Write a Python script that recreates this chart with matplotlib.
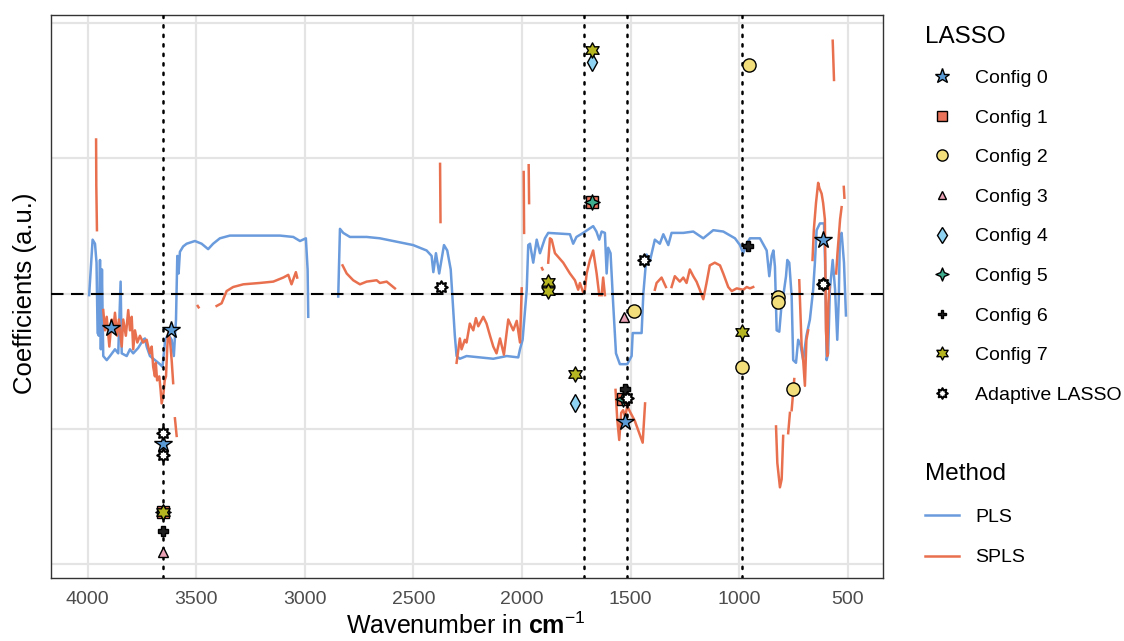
import numpy as np
import matplotlib
matplotlib.use("Agg")
import matplotlib.pyplot as plt
from matplotlib.lines import Line2D
from matplotlib.path import Path

plt.rcParams['font.family'] = ['Liberation Sans', 'DejaVu Sans']
plt.rcParams['mathtext.fontset'] = 'custom'
plt.rcParams['mathtext.rm'] = 'Liberation Sans'
plt.rcParams['mathtext.bf'] = 'Liberation Sans:bold'
plt.rcParams['mathtext.it'] = 'Liberation Sans:italic'

nan = np.nan

# ---------------- data ----------------
# PLS coefficients (two continuous segments)
pls_wn_1 = [3993, 3977, 3966, 3959, 3954, 3948, 3943, 3939, 3934, 3928, 3912, 3897, 3874, 3859,
            3848, 3843, 3820, 3805, 3790, 3767, 3744, 3736, 3728, 3713, 3690, 3667, 3655, 3643,
            3629, 3613, 3603, 3593, 3587, 3581, 3575, 3560, 3544, 3506, 3475, 3445, 3422, 3391,
            3345, 3237, 3114, 3053, 3022, 2995, 2987, 2984]
pls_co_1 = [-0.01, 0.40, 0.37, 0.23, -0.29, -0.31, 0.25, -0.41, 0.18, -0.46, -0.49, -0.46, -0.41, -0.44,
            0.09, -0.44, -0.46, -0.41, -0.44, -0.40, -0.34, -0.33, -0.39, -0.46, -0.49, -0.52, -0.54, -0.34,
            -0.30, -0.34, -0.46, -0.19, 0.28, 0.15, 0.31, 0.35, 0.37, 0.39, 0.37, 0.33, 0.37, 0.41,
            0.43, 0.43, 0.43, 0.42, 0.39, 0.41, 0.18, -0.17]

pls_wn_2 = [2846, 2838, 2823, 2792, 2715, 2654, 2562, 2501, 2439, 2416, 2408, 2396, 2381, 2359,
            2344, 2328, 2309, 2301, 2286, 2255, 2132, 2070, 2017, 2009, 1997, 1978, 1971, 1963,
            1948, 1932, 1917, 1894, 1879, 1779, 1764, 1749, 1718, 1672, 1657, 1644, 1633, 1618,
            1610, 1603, 1592, 1580, 1567, 1549, 1515, 1495, 1490, 1449, 1441, 1426, 1411, 1388,
            1365, 1349, 1326, 1311, 1257, 1211, 1165, 1119, 1073, 1019, 996, 981, 965, 950,
            904, 873, 861, 850, 842, 835, 827, 815, 804, 797, 784, 778, 769, 758,
            751, 738, 728, 717, 705, 690, 674, 659, 651, 643, 628, 609, 604, 597,
            590, 582, 569, 558, 548, 541, 536, 528, 517, 508]
pls_co_2 = [-0.02, 0.48, 0.45, 0.42, 0.42, 0.41, 0.38, 0.36, 0.32, 0.28, 0.16, 0.30, 0.15, 0.36,
            0.32, 0.18, -0.31, -0.46, -0.48, -0.46, -0.48, -0.46, -0.47, -0.41, -0.34, 0.03, 0.36, 0.37,
            0.23, 0.40, 0.30, 0.41, 0.45, 0.44, 0.37, 0.42, 0.45, 0.50, 0.46, 0.40, 0.46, 0.45,
            0.15, 0.34, 0.30, -0.07, -0.44, -0.52, -0.52, -0.46, -0.29, -0.29, 0.00, 0.29, 0.24, 0.40,
            0.37, 0.44, 0.36, 0.45, 0.45, 0.46, 0.41, 0.47, 0.46, 0.41, 0.36, 0.30, 0.37, 0.41,
            0.41, 0.32, 0.13, 0.28, 0.32, 0.20, -0.27, -0.28, -0.07, -0.02, 0.13, 0.25, 0.23, -0.02,
            -0.49, -0.51, -0.34, -0.38, -0.49, -0.31, -0.19, 0.03, 0.23, 0.47, 0.52, 0.52, 0.23, -0.49,
            -0.44, 0.03, 0.25, 0.03, -0.34, -0.04, 0.42, 0.45, 0.23, -0.16]

# SPLS coefficients (NaN separates the non-zero stretches)
spls_wn = [3961, 3960, 3957, nan,
           3928, 3920, 3912, 3900, 3889, 3882, 3874, 3864, 3856, 3843, 3836, 3824, 3813, 3805,
           3797, 3790, 3782, 3771, 3759, 3745, 3728, 3721, 3713, 3705, 3698, 3690, 3686, 3680,
           3670, 3664, 3659, 3651, 3645, 3639, 3633, 3629, 3621, 3613, 3606, nan,
           3598, 3590, nan,
           3493, 3489, nan,
           3406, 3383, 3360, 3330, 3283, 3207, 3145, 3099, 3076, 3061, 3041, 3035, nan,
           2826, 2807, 2777, 2746, 2715, 2669, 2654, 2623, 2608, 2585, nan,
           2377, 2375, nan,
           2301, 2286, 2278, 2263, 2255, 2240, 2224, 2212, 2201, 2178, 2163, 2147, 2132, 2117,
           2101, 2083, 2063, 2040, 2024, 2009, 2001, nan,
           1992, 1990, nan,
           1969, 1967, nan,
           1908, 1905, nan,
           1879, 1871, 1863, 1848, 1810, 1779, 1756, 1741, 1733, 1718, nan,
           1710, 1702, 1687, 1672, 1656, 1644, nan,
           1633, 1626, 1618, nan,
           1569, 1561, 1552, 1543, 1534, 1525, 1515, 1503, 1480, 1444, 1433, nan,
           1388, 1380, 1357, 1337, nan,
           1311, 1296, 1273, 1257, 1242, 1227, 1211, 1196, 1181, 1165, 1150, 1135, 1112, 1088,
           1073, 1050, 1034, 1011, 981, 965, 950, 935, nan,
           569, 563, nan,
           830, 824, 812, 804, 797, nan,
           774, 766, nan,
           758, 751, 746, nan,
           723, 712, 705, 697, 690, 682, nan,
           662, 656, 646, 636, 630, 620, 613, 605, 600, 594, 589, 584, nan,
           553, 547, 541, 535, 528, nan,
           518, 515]
spls_co = [1.14, 0.80, 0.47, nan,
           -0.12, -0.27, -0.17, -0.39, -0.19, -0.27, -0.14, -0.31, -0.19, -0.39, -0.19, -0.31, -0.12, -0.27,
           -0.17, -0.41, -0.27, -0.36, -0.31, -0.36, -0.34, -0.39, -0.44, -0.39, -0.54, -0.61, -0.51, -0.64,
           -0.61, -0.71, -0.81, -0.74, -0.64, -0.61, -0.39, -0.29, -0.34, -0.49, -0.66, nan,
           -0.92, -1.05, nan,
           -0.09, -0.10, nan,
           -0.09, -0.07, 0.02, 0.05, 0.07, 0.08, 0.09, 0.12, 0.14, 0.07, 0.16, 0.12, nan,
           0.21, 0.15, 0.10, 0.07, 0.09, 0.10, 0.08, 0.09, 0.07, 0.04, nan,
           0.96, 0.53, nan,
           -0.51, -0.33, -0.41, -0.34, -0.36, -0.22, -0.27, -0.18, -0.24, -0.17, -0.22, -0.31, -0.39, -0.44,
           -0.33, -0.45, -0.19, -0.27, -0.20, -0.36, 0.04, nan,
           0.90, 0.45, nan,
           0.95, 0.67, nan,
           0.19, 0.18, nan,
           0.23, 0.41, 0.40, 0.30, 0.23, 0.15, 0.10, 0.03, 0.08, 0.01, nan,
           0.03, 0.15, 0.25, 0.32, 0.15, -0.01, nan,
           -0.01, 0.12, -0.01, nan,
           -0.71, -0.93, -1.08, -0.88, -0.86, -0.91, -0.83, -0.87, -0.94, -1.10, -0.81, nan,
           0.03, 0.08, 0.12, 0.05, nan,
           0.05, 0.13, 0.09, 0.12, 0.08, 0.18, 0.13, 0.09, 0.03, -0.04, 0.08, 0.21, 0.23, 0.21,
           0.15, 0.05, 0.02, 0.04, 0.03, 0.05, 0.04, 0.05, nan,
           1.87, 1.58, nan,
           -0.98, -1.25, -1.43, -1.37, -1.05, nan,
           -1.03, -0.88, nan,
           -0.86, -0.73, -0.63, nan,
           0.10, -0.39, -0.49, -0.68, -0.34, -0.27, nan,
           0.25, 0.47, 0.67, 0.82, 0.78, 0.74, 0.67, 0.55, -0.27, -0.46, -0.07, 0.05, nan,
           0.15, 0.30, 0.42, 0.55, 0.64, nan,
           0.79, 0.71]

# LASSO selected wavenumbers (marker positions)
cfg0_wn = [3894, 3616, 3652, 1526, 613]
cfg0_co = [-0.25, -0.27, -1.11, -0.95, 0.40]
cfg1_wn = [1676, 3652, 1533]
cfg1_co = [0.68, -1.61, -0.78]
cfg2_wn = [955, 1486, 822, 822, 986, 754]
cfg2_co = [1.69, -0.13, -0.02, -0.06, -0.54, -0.70]
cfg3_wn = [1530, 3652]
cfg3_co = [-0.17, -1.91]
cfg4_wn = [1676, 1756]
cfg4_co = [1.71, -0.81]
cfg5_wn = [1676, 3652, 1533]
cfg5_co = [0.68, -1.61, -0.78]
cfg6_wn = [958, 1526, 3652, 613]
cfg6_co = [0.35, -0.70, -1.75, 0.07]
cfg7_wn = [1676, 1879, 1879, 1756, 986, 3652]
cfg7_co = [1.80, 0.09, 0.02, -0.59, -0.28, -1.61]
adapt_wn = [2373, 1437, 613, 1518, 3652, 3652]
adapt_co = [0.05, 0.25, 0.07, -0.77, -1.03, -1.19]

marked_wn = [3652, 1713, 1517, 985]
x_ticks = [4000, 3500, 3000, 2500, 2000, 1500, 1000, 500]
lasso_labels = ['Config 0', 'Config 1', 'Config 2', 'Config 3', 'Config 4',
                'Config 5', 'Config 6', 'Config 7', 'Adaptive LASSO']
method_labels = ['PLS', 'SPLS']

# ---------------- styles ----------------
pls_color = '#6A9BDC'
spls_color = '#E9704F'
star4 = Path.unit_regular_star(4, 0.42)
hexagram = Path.unit_regular_star(6, 0.55)
octo = Path.unit_regular_star(8, 0.62)
marker_styles = [
    ('*', '#5B9BD5', 13, 1.0),
    ('s', '#E8735A', 8, 1.0),
    ('o', '#F2DE7A', 9.5, 1.0),
    ('^', '#E8A1B5', 7.5, 1.0),
    ('d', '#8ED3F2', 9, 1.0),
    (star4, '#3FAE8F', 11, 1.0),
    ('P', '#1F1F1F', 7.5, 1.0),
    (hexagram, '#B5B521', 11, 1.0),
    (octo, 'white', 9, 1.5),
]
marker_data = [(cfg0_wn, cfg0_co), (cfg1_wn, cfg1_co), (cfg2_wn, cfg2_co), (cfg3_wn, cfg3_co),
               (cfg4_wn, cfg4_co), (cfg5_wn, cfg5_co), (cfg6_wn, cfg6_co), (cfg7_wn, cfg7_co),
               (adapt_wn, adapt_co)]

W, H = 1124, 641
fig = plt.figure(figsize=(W / 100, H / 100), dpi=100)
L, R, T, B = 50.7, 883.3, 15, 578
ax = fig.add_axes([L / W, 1 - B / H, (R - L) / W, (B - T) / H])
ax.set_xlim(4170, 336)
ax.set_ylim(-2.10, 2.06)
ax.set_xticks(x_ticks)
ax.set_xticklabels([str(t) for t in x_ticks])
ax.set_yticks([-2, -1, 0, 1, 2])
ax.set_yticklabels([])
ax.tick_params(axis='both', length=0, labelsize=14, colors='#4D4D4D', pad=9)
ax.grid(True, color='#E4E4E4', lw=1.6, zorder=0)
ax.set_axisbelow(True)
for s in ax.spines.values():
    s.set_color('#333333')
    s.set_linewidth(1.0)

ax.plot(pls_wn_1, pls_co_1, color=pls_color, lw=1.8, zorder=2)
ax.plot(pls_wn_2, pls_co_2, color=pls_color, lw=1.8, zorder=2)
ax.plot(spls_wn, spls_co, color=spls_color, lw=1.8, zorder=2)

ax.axhline(0, color='black', lw=1.5, dashes=(6, 3.6), zorder=3)
for w in marked_wn:
    ax.axvline(w, color='black', lw=1.8, dashes=(0.9, 2.9), dash_capstyle='round', zorder=3)

for (wn, co), (mk, fc, ms, mew) in zip(marker_data, marker_styles):
    ax.plot(wn, co, ls='none', marker=mk, markerfacecolor=fc, markeredgecolor='black',
            markeredgewidth=mew, markersize=ms, zorder=4)

fig.text(25 / W, 1 - 293 / H, 'Coefficients (a.u.)', rotation=90, ha='center', va='center',
         fontsize=18.5, color='black')
fig.text(466 / W, 1 - 626 / H, r'Wavenumber in $\mathbf{cm}^{-1}$', ha='center', va='center',
         fontsize=18, color='black')

lasso_handles = [Line2D([], [], ls='none', marker=mk, markerfacecolor=fc, markeredgecolor='black',
                        markeredgewidth=mew, markersize=ms * 0.85)
                 for (mk, fc, ms, mew) in marker_styles]
leg1 = fig.legend(lasso_handles, lasso_labels, title='LASSO', loc='upper left',
                  bbox_to_anchor=(909 / W, 1 - 10 / H), frameon=False, fontsize=14,
                  title_fontsize=17.5, alignment='left', handlelength=1.75,
                  handletextpad=0.85, labelspacing=1.13, borderpad=0.3)
method_handles = [Line2D([], [], color=pls_color, lw=1.8), Line2D([], [], color=spls_color, lw=1.8)]
leg2 = fig.legend(method_handles, method_labels, title='Method', loc='upper left',
                  bbox_to_anchor=(909 / W, 1 - 447 / H), frameon=False, fontsize=14,
                  title_fontsize=17.5, alignment='left', handlelength=1.75,
                  handletextpad=0.85, labelspacing=1.2, borderpad=0.3)

fig.savefig('out.png', dpi=100)
